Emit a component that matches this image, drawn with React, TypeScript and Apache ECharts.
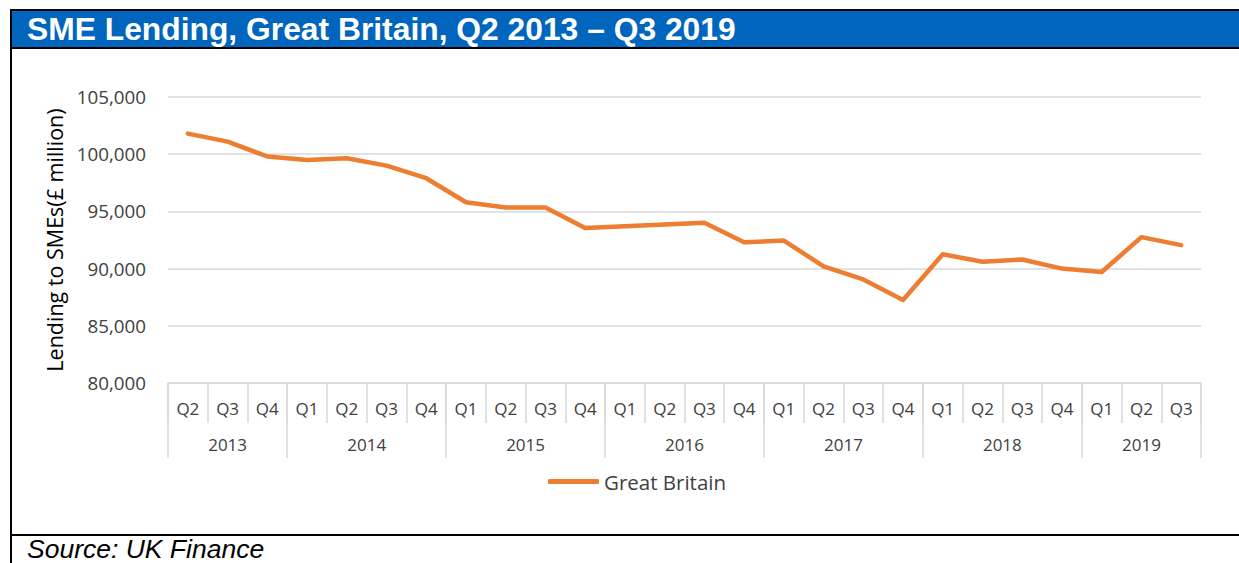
import React, { useEffect, useRef } from "react";
import * as echarts from "echarts";

const quarterLabels = [
  "Q2", "Q3", "Q4",
  "Q1", "Q2", "Q3", "Q4",
  "Q1", "Q2", "Q3", "Q4",
  "Q1", "Q2", "Q3", "Q4",
  "Q1", "Q2", "Q3", "Q4",
  "Q1", "Q2", "Q3", "Q4",
  "Q1", "Q2", "Q3",
];
const yearLabels = ["2013", "2014", "2015", "2016", "2017", "2018", "2019"];
const quartersPerYear = [3, 4, 4, 4, 4, 4, 3];
const greatBritain = [
  101800, 101100, 99800, 99500, 99650, 99000, 97900, 95800, 95350, 95350,
  93550, 93700, 93850, 94000, 92300, 92450, 90200, 89050, 87250, 91250,
  90600, 90800, 90000, 89700, 92750, 92050,
];
const yTicks = { min: 80000, max: 105000, interval: 5000 };

const TITLE = "SME Lending, Great Britain, Q2 2013 \u2013 Q3 2019";
const SOURCE = "Source: UK Finance";
const Y_NAME = "Lending to SMEs(\u00a3 million)";
const SERIES_NAME = "Great Britain";

export default function App() {
  const ref = useRef<HTMLDivElement>(null);
  useEffect(() => {
    if (!ref.current) return;
    const chart = echarts.init(ref.current, null, { renderer: "svg" });

    const boundaries: number[] = [0];
    quartersPerYear.forEach((n) => boundaries.push(boundaries[boundaries.length - 1] + n));
    const centers = quartersPerYear.map((n, i) => boundaries[i] + n / 2);
    const total = boundaries[boundaries.length - 1];

    const axisFont = "'Open Sans', sans-serif";
    const grey = "#d9d9d9";
    const textCol = "#404040";

    chart.setOption({
      animation: false,
      backgroundColor: "#ffffff",
      grid: { left: 168, right: 38, top: 97, bottom: 180, containLabel: false },
      legend: {
        data: [{ name: SERIES_NAME, icon: "roundRect" }],
        left: 548,
        top: 471,
        padding: 0,
        itemWidth: 51,
        itemHeight: 5,
        itemGap: 4,
        textStyle: { fontFamily: axisFont, fontSize: 20.5, color: textCol, padding: [0, 0, 0, 0] },
      },
      xAxis: [
        {
          type: "category",
          data: quarterLabels,
          boundaryGap: true,
          position: "bottom",
          offset: 0,
          axisLine: { show: true, lineStyle: { color: grey, width: 1.5 } },
          axisTick: { show: true, length: 40, alignWithLabel: false, interval: 0, lineStyle: { color: grey, width: 1.5 } },
          axisLabel: { interval: 0, margin: 17, fontFamily: axisFont, fontSize: 17, color: textCol },
          splitLine: { show: false },
        },
        {
          type: "value",
          min: 0,
          max: total,
          position: "bottom",
          offset: 0,
          axisLine: { show: false },
          splitLine: { show: false },
          axisTick: {
            show: true,
            length: 75,
            customValues: boundaries,
            lineStyle: { color: grey, width: 1.5 },
          },
          axisLabel: {
            show: true,
            customValues: centers,
            margin: 53,
            fontFamily: axisFont,
            fontSize: 17,
            color: textCol,
            formatter: (v: number) => {
              const idx = centers.findIndex((c) => Math.abs(c - v) < 1e-6);
              return idx >= 0 ? yearLabels[idx] : "";
            },
          },
        },
      ],
      yAxis: {
        type: "value",
        min: yTicks.min,
        max: yTicks.max,
        interval: yTicks.interval,
        name: Y_NAME,
        nameLocation: "middle",
        nameGap: 95,
        nameRotate: 90,
        nameTextStyle: { fontFamily: axisFont, fontSize: 21.5, color: "#000000" },
        axisLine: { show: false },
        axisTick: { show: false },
        axisLabel: {
          margin: 22,
          fontFamily: axisFont,
          fontSize: 18.8,
          color: textCol,
          formatter: (v: number) => v.toLocaleString("en-GB"),
        },
        splitLine: { lineStyle: { color: grey, width: 1.5 } },
      },
      series: [
        {
          name: SERIES_NAME,
          type: "line",
          xAxisIndex: 0,
          data: greatBritain,
          symbol: "none",
          showSymbol: false,
          smooth: false,
          lineStyle: { color: "#ED7D31", width: 4.5, cap: "round", join: "round" },
          itemStyle: { color: "#ED7D31" },
        },
      ],
      graphic: [
        { type: "rect", shape: { x: 11, y: 10, width: 1228, height: 38 }, style: { fill: "#0065BD" }, z: 0 },
        { type: "line", shape: { x1: 10, y1: 10, x2: 1239, y2: 10 }, style: { stroke: "#000", lineWidth: 2 }, z: 1 },
        { type: "line", shape: { x1: 10, y1: 48, x2: 1239, y2: 48 }, style: { stroke: "#000", lineWidth: 2 }, z: 1 },
        { type: "line", shape: { x1: 10, y1: 535, x2: 1239, y2: 535 }, style: { stroke: "#000", lineWidth: 2 }, z: 1 },
        { type: "line", shape: { x1: 11, y1: 9, x2: 11, y2: 563 }, style: { stroke: "#000", lineWidth: 2 }, z: 1 },
        {
          type: "text",
          x: 27,
          y: 29,
          z: 2,
          style: {
            text: TITLE,
            fill: "#ffffff",
            font: "bold 31.8px 'Liberation Sans', Arial, sans-serif",
            verticalAlign: "middle",
            align: "left",
          },
        },
        {
          type: "text",
          x: 27,
          y: 549,
          z: 2,
          style: {
            text: SOURCE,
            fill: "#000000",
            font: "italic 26.5px 'Liberation Sans', Arial, sans-serif",
            lineHeight: 26,
            verticalAlign: "middle",
            align: "left",
          },
        },
      ],
    });
    return () => chart.dispose();
  }, []);
  return (
    <div
      ref={ref}
      style={{ position: "fixed", left: 0, top: 0, width: 1239, height: 563, background: "#fff" }}
    />
  );
}
